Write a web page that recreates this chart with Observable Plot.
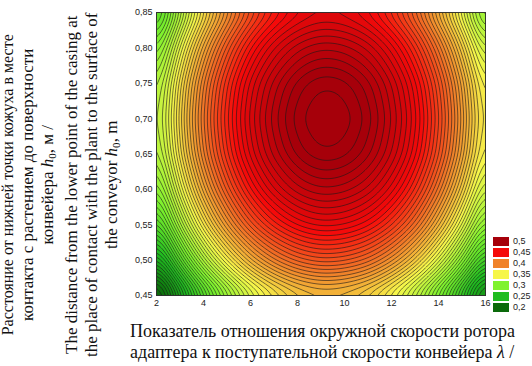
<!DOCTYPE html>
<html><head><meta charset="utf-8">
<script src="https://cdn.jsdelivr.net/npm/d3@7"></script>
<script src="https://cdn.jsdelivr.net/npm/@observablehq/plot@0.6"></script>
<style>
html,body{margin:0;padding:0;background:#fff;}
body{width:532px;height:366px;overflow:hidden;position:relative;font-family:"Liberation Serif","Times New Roman",serif;color:#111;}
#chart{position:absolute;left:0;top:0;}
#ylab{position:absolute;width:360px;left:-118px;top:121px;transform:rotate(-90deg);transform-origin:center;text-align:center;font-size:17px;line-height:20px;white-space:nowrap;}
#ylab .ru{font-size:16px;}
#xlab{position:absolute;left:130px;top:321px;font-size:18px;line-height:21px;white-space:nowrap;}
#legend{position:absolute;left:493px;top:237px;font-family:"Liberation Sans",Arial,sans-serif;font-size:9px;color:#222;}
.row{height:11px;position:relative;}
.sw{position:absolute;left:0;top:0;width:16px;height:9px;}
.lb{position:absolute;left:20px;top:-1px;}
sub{font-size:0.65em;vertical-align:-0.25em;}
</style></head><body>
<div id="chart"></div>
<div id="ylab">
<div class="ru">Расстояние от нижней точки кожуха в месте</div>
<div>контакта с растением до поверхности</div>
<div>конвейера <i>h</i><sub>0</sub>, м /</div>
<div>The distance from the lower point of the casing at</div>
<div>the place of contact with the plant to the surface of</div>
<div>the conveyor <i>h</i><sub>0</sub>, m</div>
</div>
<div id="xlab">
<div>Показатель отношения окружной скорости ротора</div>
<div>адаптера к поступательной скорости конвейера <i>λ</i> /</div>
</div>
<div id="legend"></div>
<script>
// x: ratio λ, y: h0 (m)
const xValues = [2, 3, 4, 5, 6, 7, 8, 9, 10, 11, 12, 13, 14, 15, 16];
const yValues = [0.45, 0.50, 0.55, 0.60, 0.65, 0.70, 0.75, 0.80, 0.85];
// surface values, one row per y value
const z045 = [0.183, 0.232, 0.274, 0.308, 0.336, 0.356, 0.369, 0.375, 0.373, 0.365, 0.349, 0.326, 0.295, 0.258, 0.213];
const z050 = [0.232, 0.281, 0.323, 0.357, 0.385, 0.405, 0.418, 0.424, 0.422, 0.414, 0.398, 0.375, 0.344, 0.307, 0.262];
const z055 = [0.271, 0.320, 0.362, 0.396, 0.424, 0.444, 0.457, 0.463, 0.461, 0.453, 0.437, 0.414, 0.383, 0.346, 0.301];
const z060 = [0.298, 0.347, 0.389, 0.423, 0.451, 0.471, 0.484, 0.490, 0.488, 0.480, 0.464, 0.441, 0.410, 0.373, 0.328];
const z065 = [0.315, 0.364, 0.406, 0.440, 0.468, 0.488, 0.503, 0.510, 0.508, 0.498, 0.481, 0.458, 0.427, 0.390, 0.345];
const z070 = [0.320, 0.369, 0.411, 0.445, 0.473, 0.494, 0.509, 0.516, 0.514, 0.504, 0.486, 0.463, 0.432, 0.395, 0.350];
const z075 = [0.315, 0.364, 0.406, 0.440, 0.468, 0.488, 0.503, 0.510, 0.508, 0.498, 0.481, 0.458, 0.427, 0.390, 0.345];
const z080 = [0.298, 0.347, 0.389, 0.423, 0.451, 0.471, 0.484, 0.490, 0.488, 0.480, 0.464, 0.441, 0.410, 0.373, 0.328];
const z085 = [0.271, 0.320, 0.362, 0.396, 0.424, 0.444, 0.457, 0.463, 0.461, 0.453, 0.437, 0.414, 0.383, 0.346, 0.301];
const zRows = [z045, z050, z055, z060, z065, z070, z075, z080, z085];

const xTicks = [2, 4, 6, 8, 10, 12, 14, 16];
const yTicks = [0.45, 0.50, 0.55, 0.60, 0.65, 0.70, 0.75, 0.80, 0.85];
const legendValues = [0.5, 0.45, 0.4, 0.35, 0.3, 0.25, 0.2];
const legendLabels = ["0,5", "0,45", "0,4", "0,35", "0,3", "0,25", "0,2"];
const legendColors = ["#a6000a", "#f50a0a", "#f0822a", "#f6f64a", "#80f22e", "#20bc20", "#0b6a0b"];
const levelStep = 0.005;

const grid = yValues.flatMap((y, i) => xValues.map((x, j) => ({x, y, z: zRows[i][j]})));
const thresholds = d3.range(30, 106).map(i => +(i * levelStep).toFixed(3));

const chart = Plot.plot({
  width: 532,
  height: 312,
  marginLeft: 156,
  marginRight: 47,
  marginTop: 12,
  marginBottom: 17,
  style: {fontFamily: "'Liberation Sans', Arial, sans-serif", fontSize: "9px", color: "#222", background: "transparent"},
  x: {domain: [2, 16], ticks: xTicks, tickSize: 0, tickPadding: 4, label: null},
  y: {domain: [0.45, 0.85], ticks: yTicks, tickSize: 0, tickPadding: 4, label: null,
      tickFormat: d => d.toFixed(2).replace(".", ",")},
  color: {type: "linear", domain: legendValues.slice().reverse(), range: legendColors.slice().reverse(), clamp: true},
  marks: [
    Plot.contour(grid, {x: "x", y: "y", fill: "z", interpolate: "barycentric", thresholds, blur: 8,
      pixelSize: 1, stroke: "#1a1a1a", strokeWidth: 0.7, strokeOpacity: 0.85}),
    Plot.frame({stroke: "#333", strokeWidth: 0.8})
  ]
});
document.getElementById("chart").appendChild(chart);

const leg = d3.select("#legend");
legendValues.forEach((v, i) => {
  const r = leg.append("div").attr("class", "row");
  r.append("div").attr("class", "sw").style("background", legendColors[i]);
  r.append("div").attr("class", "lb").text(legendLabels[i]);
});
</script>
</body></html>
